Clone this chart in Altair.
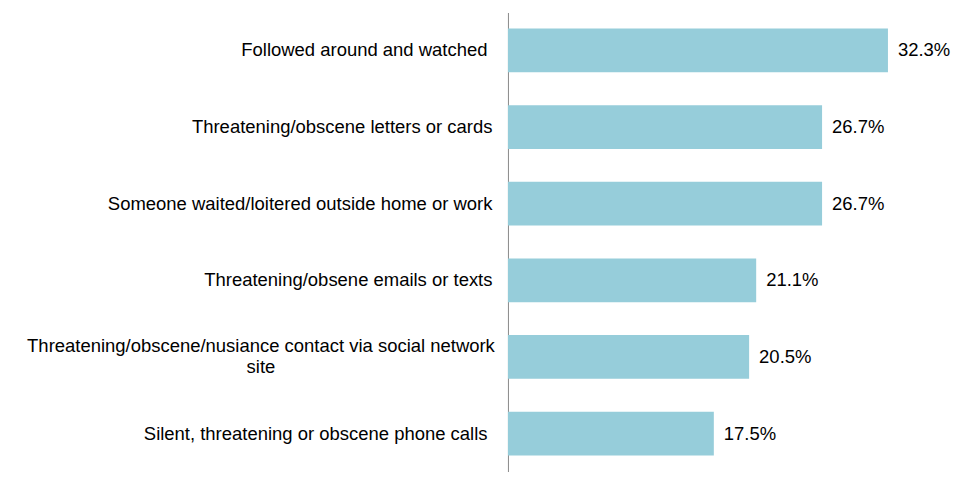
import altair as alt
import pandas as pd

categories = [
    "Followed around and watched",
    "Threatening/obscene letters or cards",
    "Someone waited/loitered outside home or work",
    "Threatening/obsene emails or texts",
    "Threatening/obscene/nusiance contact via social network|site",
    "Silent, threatening or obscene phone calls",
]
values = [32.3, 26.7, 26.7, 21.1, 20.5, 17.5]
value_labels = ["32.3%", "26.7%", "26.7%", "21.1%", "20.5%", "17.5%"]

df = pd.DataFrame({"category": categories, "value": values, "label": value_labels})

is_wrapped = "indexof(datum.label, 'nusiance') >= 0"
is_trailing = "indexof(datum.label, 'Followed') >= 0 || indexof(datum.label, 'Silent') >= 0"

y_enc = alt.Y(
    "category:N",
    sort=None,
    title=None,
    scale=alt.Scale(paddingInner=0.43, paddingOuter=0.21),
    axis=alt.Axis(
        ticks=False,
        domain=True,
        domainColor="#8a8a8a",
        domainWidth=1,
        labelFont="Liberation Sans",
        labelFontSize=18.5,
        labelColor="#000000",
        labelPadding={
            "condition": [
                {"test": is_wrapped, "value": 248},
                {"test": is_trailing, "value": 21},
            ],
            "value": 16,
        },
        labelAlign={"condition": {"test": is_wrapped, "value": "center"}, "value": "right"},
        labelOffset={"condition": {"test": is_wrapped, "value": -10.5}, "value": 0},
        labelLimit=800,
        labelLineHeight=21,
        labelExpr="split(datum.label, '|')",
    ),
)
x_enc = alt.X(
    "value:Q",
    title=None,
    scale=alt.Scale(domain=[0, 38], nice=False),
    axis=None,
)

bars = alt.Chart(df).mark_bar(color="#96CDDA").encode(x=x_enc, y=y_enc)
text = alt.Chart(df).mark_text(
    align="left",
    baseline="middle",
    dx=10,
    font="Liberation Sans",
    fontSize=18.5,
    color="#000000",
).encode(x=x_enc, y=y_enc, text="label:N")

chart = (
    alt.layer(bars, text)
    .properties(
        width=448,
        height=460,
        background="white",
        autosize=alt.AutoSizeParams(type="none"),
        padding={"left": 501, "top": 4, "right": 4, "bottom": 14},
    )
    .configure_view(strokeWidth=0, stroke="transparent")
)

chart.save("out.html", embed_options={"renderer": "svg", "actions": False})
